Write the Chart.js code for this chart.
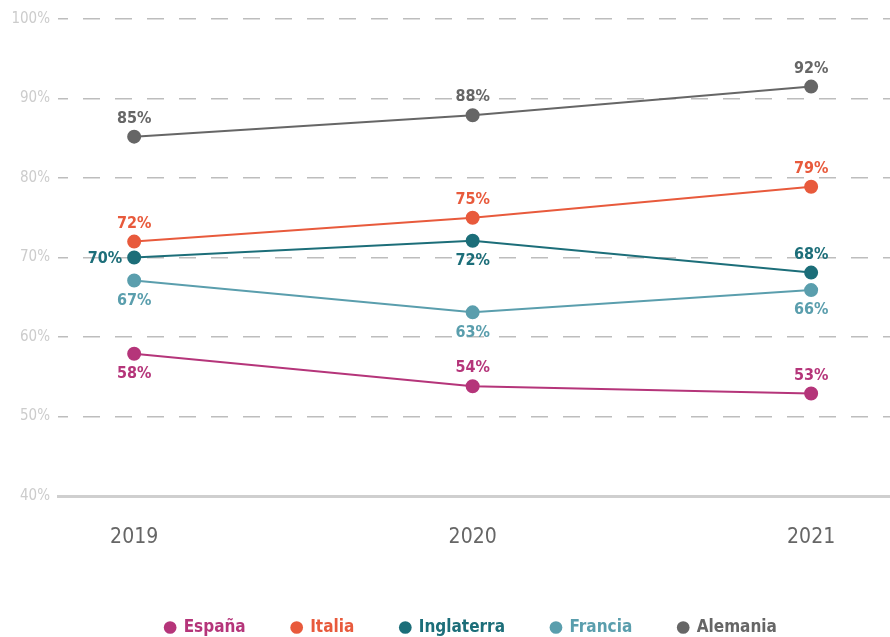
<!DOCTYPE html>
<html>
<head>
<meta charset="utf-8">
<script src="https://cdn.jsdelivr.net/npm/chart.js@4"></script>
<style>
html,body{margin:0;padding:0;background:#fff;}
#wrap{width:890px;height:637px;position:relative;}
</style>
</head>
<body>
<div id="wrap"><canvas id="c" width="890" height="637"></canvas></div>
<script>
const years = [2019, 2020, 2021];
const yTicks = [40, 50, 60, 70, 80, 90, 100];
const seriesNames = ['España', 'Italia', 'Inglaterra', 'Francia', 'Alemania'];
const espana = [57.9, 53.8, 52.9];
const italia = [72, 75, 78.9];
const inglaterra = [70, 72.1, 68.1];
const francia = [67.1, 63.1, 65.9];
const alemania = [85.2, 87.9, 91.5];
const colors = ['#b5357a', '#e85a3c', '#1c6e79', '#5a9ead', '#666666'];
const labelPlacement = [
  ['bottom', 'top', 'top'],
  ['top', 'top', 'top'],
  ['left', 'bottom', 'top'],
  ['bottom', 'bottom', 'bottom'],
  ['top', 'top', 'top']
];
const allValues = [espana, italia, inglaterra, francia, alemania];
const FONT = "'Liberation Sans Narrow','DejaVu Sans Condensed','Roboto',sans-serif";

const datasets = allValues.map((vals, i) => ({
  label: seriesNames[i],
  data: vals.map((v, j) => ({x: years[j], y: v})),
  borderColor: colors[i],
  backgroundColor: colors[i],
  pointBackgroundColor: colors[i],
  pointBorderColor: colors[i],
  pointRadius: 6,
  pointHoverRadius: 6,
  borderWidth: 2,
  tension: 0
}));

const labelPlugin = {
  id: 'valueLabels',
  afterLayout(chart) {
    if (chart.legend) { chart.legend.left += 26; chart.legend.right += 26; }
  },
  afterDatasetsDraw(chart) {
    const ctx = chart.ctx;
    ctx.save();
    ctx.font = "bold 16px " + FONT;
    chart.data.datasets.forEach((ds, i) => {
      const meta = chart.getDatasetMeta(i);
      meta.data.forEach((pt, j) => {
        const txt = Math.round(allValues[i][j]) + '%';
        const place = labelPlacement[i][j];
        ctx.fillStyle = colors[i];
        let x = pt.x, y = pt.y;
        if (place === 'top') { ctx.textAlign = 'center'; ctx.textBaseline = 'middle'; y -= 18; }
        else if (place === 'bottom') { ctx.textAlign = 'center'; ctx.textBaseline = 'middle'; y += 20; }
        else { ctx.textAlign = 'right'; ctx.textBaseline = 'middle'; x -= 12; y += 1; }
        ctx.fillText(txt, x, y);
      });
    });
    ctx.restore();
  }
};

new Chart(document.getElementById('c'), {
  type: 'line',
  data: { datasets },
  plugins: [labelPlugin],
  options: {
    responsive: false,
    animation: false,
    layout: { autoPadding: false, padding: { top: 19, right: 0, left: 0, bottom: -9 } },
    plugins: {
      tooltip: { enabled: false },
      legend: {
        position: 'bottom',
        labels: {
          usePointStyle: true,
          pointStyle: 'circle',
          boxWidth: 10,
          boxHeight: 9,
          padding: 46,
          font: { family: FONT, size: 17, weight: 'bold' },
          generateLabels(chart) {
            return chart.data.datasets.map((ds, i) => ({
              text: ds.label,
              fillStyle: colors[i],
              strokeStyle: colors[i],
              fontColor: colors[i],
              lineWidth: 0,
              pointStyle: 'circle',
              datasetIndex: i,
              hidden: false
            }));
          }
        }
      }
    },
    scales: {
      x: {
        type: 'linear',
        min: 2018.775,
        max: 2021.233,
        afterBuildTicks(scale) { scale.ticks = years.map(v => ({value: v})); },
        grid: { display: false },
        border: { display: true, color: '#cfcfcf', width: 3 },
        ticks: {
          padding: 21,
          color: '#666',
          font: { family: FONT, size: 21 },
          callback: v => String(v)
        },
        afterFit(scale) { scale.height = 77; }
      },
      y: {
        min: 40,
        max: 100,
        afterBuildTicks(scale) { scale.ticks = yTicks.map(v => ({value: v})); },
        grid: { color: '#bdbdbd', lineWidth: 1.5, drawTicks: false },
        border: { display: false, dash: [17, 15], dashOffset: 7 },
        ticks: {
          padding: 8,
          color: '#cccccc',
          font: { family: FONT, size: 15 },
          callback: v => v + '%'
        },
        afterFit(scale) { scale.width = 58; }
      }
    }
  }
});
</script>
</body>
</html>
